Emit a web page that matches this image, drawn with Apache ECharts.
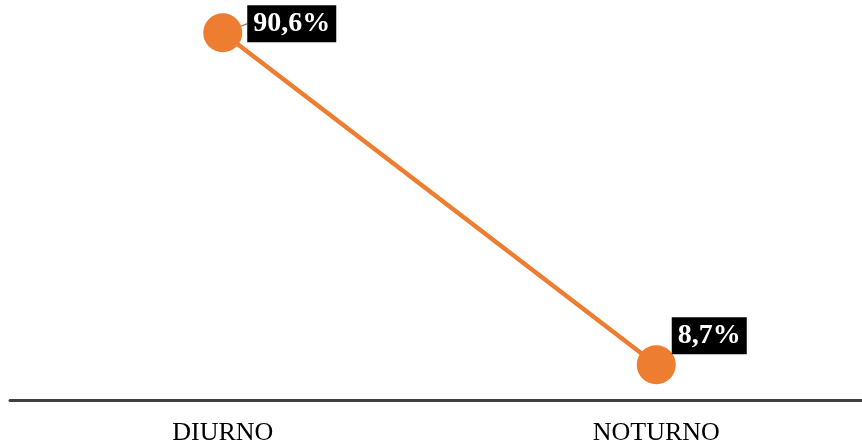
<!DOCTYPE html>
<html><head><meta charset="utf-8">
<script src="https://cdn.jsdelivr.net/npm/echarts@6/dist/echarts.min.js"></script>
<style>html,body{margin:0;padding:0;background:#fff}#c{width:862px;height:445px}</style>
</head><body><div id="c"></div>
<script>
const categories = ['DIURNO', 'NOTURNO'];
const values = [90.6, 8.7];
const labelTexts = ['90,6%', '8,7%'];

const chart = echarts.init(document.getElementById('c'));
chart.setOption({
  animation: false,
  backgroundColor: '#ffffff',
  grid: [
    {left: 6, right: -11, top: 0, bottom: 45, outerBoundsMode: 'none'},
    {left: 10, right: 0, top: 0, bottom: 45, outerBoundsMode: 'none'}
  ],
  xAxis: [
    {type: 'category', gridIndex: 0, data: categories, boundaryGap: true,
     axisLine: {show: false}, axisTick: {show: false},
     axisLabel: {fontFamily: 'Liberation Serif', fontSize: 26, color: '#000', margin: 20}},
    {type: 'category', gridIndex: 1, data: categories,
     axisLine: {show: true, lineStyle: {color: '#404040', width: 3}},
     axisTick: {show: false}, axisLabel: {show: false}}
  ],
  yAxis: [
    {type: 'value', gridIndex: 0, min: 0, max: 98.7, show: false},
    {type: 'value', gridIndex: 1, min: 0, max: 100, show: false}
  ],
  series: [{
    type: 'line',
    xAxisIndex: 0, yAxisIndex: 0,
    data: values.map((v, i) => ({value: v, labelLine: {show: i === 0}})),
    symbol: 'circle',
    symbolSize: 39,
    itemStyle: {color: '#ED7D31'},
    lineStyle: {color: '#ED7D31', width: 4.5},
    label: {
      show: true,
      position: 'right',
      distance: 5,
      formatter: p => labelTexts[p.dataIndex],
      fontFamily: 'Liberation Serif',
      fontWeight: 'bold',
      fontSize: 28,
      color: '#fff',
      backgroundColor: '#000',
      padding: [5, 6, 4, 6]
    },
    labelLine: {show: true, lineStyle: {color: '#888', width: 1.5}},
    labelLayout: function (p) {
      return p.dataIndex === 0 ? {dx: 0, dy: -9} : {dx: -9, dy: -29};
    }
  }]
});
</script></body></html>
